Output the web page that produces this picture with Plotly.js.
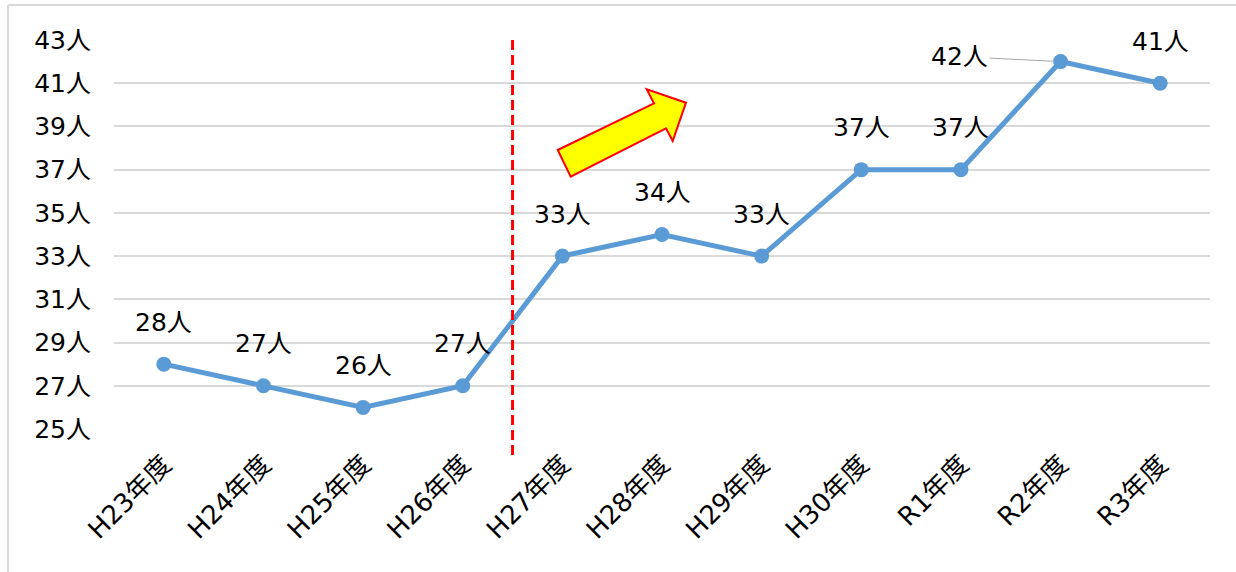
<!DOCTYPE html>
<html><head><meta charset="utf-8">
<script src="https://cdn.plot.ly/plotly-3.0.1.min.js"></script>
<style>html,body{margin:0;padding:0;background:#fff}#chart{width:1236px;height:572px}</style>
</head><body><div id="chart"></div>
<script>
const categories = ["H23年度","H24年度","H25年度","H26年度","H27年度","H28年度","H29年度","H30年度","R1年度","R2年度","R3年度"];
const values = [28,27,26,27,33,34,33,37,37,42,41];
const yTickVals = [25,27,29,31,33,35,37,39,41,43];
const yTickText = yTickVals.map(v => v + "人");
const labelText = values.map(v => v + "人");

const W = 1236, H = 572;
const L = 114, R = 26, T = 40, B = 143;
const PW = W - L - R, PH = H - T - B;
const px = x => (x - L) / PW;
const py = y => (H - B - y) / PH;

const FONT = "DejaVu Sans, Noto Sans CJK JP, sans-serif";

const arrowPts = [[557.7,150],[654,103.3],[646.7,89.3],[686,102.7],[672.7,141],[666,128.3],[570.7,176.7]];
const arrowPath = "M " + arrowPts.map(p => px(p[0]).toFixed(5) + "," + py(p[1]).toFixed(5)).join(" L ") + " Z";

const annotations = values.map((v, i) => {
  if (i === 9) {
    return {x: i, y: v, xref: 'x', yref: 'y', text: labelText[i], showarrow: true,
      arrowhead: 0, arrowwidth: 1, arrowcolor: '#a6a6a6', ax: -101, ay: -5, standoff: 6,
      font: {family: FONT, size: 25, color: '#000'}};
  }
  return {x: i, y: v, xref: 'x', yref: 'y', text: labelText[i], showarrow: false,
    yshift: 42, xanchor: 'center', yanchor: 'middle',
    font: {family: FONT, size: 25, color: '#000'}};
});

const data = [{
  x: categories, y: values, type: 'scatter', mode: 'lines+markers',
  line: {color: '#5b9bd5', width: 5},
  marker: {color: '#5b9bd5', size: 15},
  hoverinfo: 'none'
}];

const layout = {
  width: W, height: H,
  margin: {l: L, r: R, t: T, b: B, pad: 0},
  paper_bgcolor: '#fff', plot_bgcolor: '#fff',
  showlegend: false,
  font: {family: FONT, size: 25, color: '#000'},
  xaxis: {type: 'category', range: [-0.5, 10.5], showgrid: false, zeroline: false,
    showline: false, ticks: '', tickangle: -45, automargin: false,
    ticklabelstandoff: 14, tickfont: {family: FONT, size: 26, color: '#000'}},
  yaxis: {range: [25, 43], tickvals: yTickVals, ticktext: yTickText, showgrid: true,
    gridcolor: '#d9d9d9', gridwidth: 2, zeroline: false, showline: false, ticks: '',
    automargin: false, ticklabelstandoff: 22, tickfont: {family: FONT, size: 25, color: '#000'}},
  annotations: annotations,
  shapes: [
    {type: 'line', xref: 'paper', yref: 'paper', x0: px(8), x1: px(1236), y0: py(5), y1: py(5), line: {color: '#d9d9d9', width: 2}},
    {type: 'line', xref: 'paper', yref: 'paper', x0: px(8), x1: px(8), y0: py(5), y1: py(572), line: {color: '#d9d9d9', width: 2}},
    {type: 'line', xref: 'x', yref: 'paper', x0: 3.5, x1: 3.5, y0: 1, y1: py(457), line: {color: '#ff0000', width: 3, dash: '10px,5px'}},
    {type: 'path', xref: 'paper', yref: 'paper', path: arrowPath, fillcolor: '#ffff00', line: {color: '#ff0000', width: 2}}
  ]
};

Plotly.newPlot('chart', data, layout, {displayModeBar: false, staticPlot: true});
</script></body></html>
